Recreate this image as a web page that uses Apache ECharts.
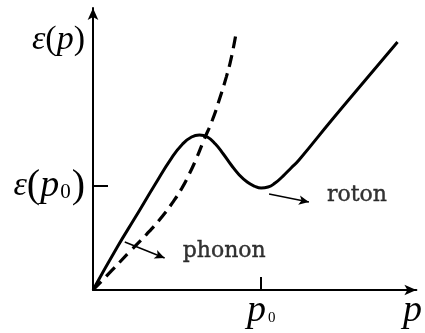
<!DOCTYPE html>
<html>
<head>
<meta charset="utf-8">
<script src="https://cdn.jsdelivr.net/npm/echarts@6/dist/echarts.min.js"></script>
<style>
  html, body { margin: 0; padding: 0; background: #fff; }
  #chart { width: 425px; height: 333px; }
</style>
</head>
<body>
<div id="chart"></div>
<script>
// Dispersion of superfluid helium: momentum in units of p0, energy in units of ε(p0)
const pSolid = [0, 0.148, 0.249, 0.367, 0.467, 0.533, 0.586, 0.633, 0.680, 0.728, 0.775, 0.822, 0.870, 0.917, 0.959, 1.0, 1.041, 1.083, 1.130, 1.178, 1.225, 1.420, 1.615, 1.811];
const eSolid = [0, 0.423, 0.692, 1.010, 1.269, 1.404, 1.471, 1.490, 1.471, 1.404, 1.308, 1.202, 1.106, 1.038, 1.0, 0.981, 0.990, 1.029, 1.096, 1.173, 1.250, 1.635, 2.010, 2.385];

// Free-particle parabola p²/2m
const pDashed = [0, 0.112, 0.219, 0.320, 0.414, 0.473, 0.527, 0.574, 0.615, 0.657, 0.710, 0.751, 0.793, 0.822, 0.852];
const eDashed = [0, 0.188, 0.370, 0.538, 0.712, 0.840, 0.975, 1.120, 1.265, 1.433, 1.635, 1.830, 2.050, 2.230, 2.481];

// Axis tick labels
const yTickValues = [1, 2.4];
const yTickLabels = ['ε(p₀)', 'ε(p)'];
const xTickValues = [1, 1.9];
const xTickLabels = ['p₀', 'p'];

// Region names and their pointer arrows
const noteNames = ['phonon', 'roton'];
const notePos = [[0.533, 0.375], [1.391, 0.913]];
const arrowFrom = [[0.189, 0.462], [1.047, 0.923]];
const arrowTo = [[0.426, 0.308], [1.284, 0.846]];

const SERIF = '"Liberation Serif", "Times New Roman", serif';

// Turn a plain math label into rich-text tokens (italic letters, upright digits)
function mathRich(text, style) {
  let out = '';
  for (const ch of text) {
    if (ch === 'ε') out += '{e|ε}';
    else if (ch === 'p') out += '{' + style + 'p|p}';
    else if (ch === '₀') out += '{' + style + 's|0}';
    else if (ch === '(' || ch === ')') out += '{' + style + 'b|' + ch + '}';
    else out += ch;
  }
  return out;
}

const black = '#000';
const richStyles = {
  e:  { fontFamily: SERIF, fontStyle: 'italic', fontSize: 34, color: black },
  // ε(p)
  ap: { fontFamily: SERIF, fontStyle: 'italic', fontSize: 34, color: black },
  ab: { fontFamily: SERIF, fontSize: 34, color: black },
  // ε(p₀)
  bp: { fontFamily: SERIF, fontStyle: 'italic', fontSize: 38, color: black },
  bb: { fontFamily: SERIF, fontSize: 40, color: black },
  bs: { fontFamily: SERIF, fontSize: 21, color: black, verticalAlign: 'bottom', padding: [0, 1, 3, 1] },
  // p₀ and p on the momentum axis
  cp: { fontFamily: SERIF, fontStyle: 'italic', fontSize: 38, color: black },
  cs: { fontFamily: SERIF, fontSize: 15, color: black, verticalAlign: 'bottom', padding: [0, 0, 4, 2] }
};

const chart = echarts.init(document.getElementById('chart'), null, { renderer: 'canvas' });

const solidData = pSolid.map((p, i) => [p, eSolid[i]]);
const dashedData = pDashed.map((p, i) => [p, eDashed[i]]);

chart.setOption({
  animation: false,
  backgroundColor: '#fff',
  grid: { left: 93, right: 7, top: 8, bottom: 43, containLabel: false },
  xAxis: {
    type: 'value',
    min: 0,
    max: 1.923,
    splitLine: { show: false },
    axisLine: { show: true, onZero: false, symbol: ['none', 'arrow'], symbolSize: [8, 12],
      lineStyle: { color: black, width: 2 } },
    axisTick: { show: true, inside: true, length: 13, customValues: [xTickValues[0]],
      lineStyle: { color: black, width: 2 } },
    axisLabel: {
      show: true,
      customValues: xTickValues,
      margin: 2,
      formatter: v => mathRich(xTickLabels[xTickValues.indexOf(v)], 'c'),
      rich: richStyles
    }
  },
  yAxis: {
    type: 'value',
    min: 0,
    max: 2.712,
    splitLine: { show: false },
    axisLine: { show: true, onZero: false, symbol: ['none', 'arrow'], symbolSize: [8, 12],
      lineStyle: { color: black, width: 2 } },
    axisTick: { show: true, inside: true, length: 15, customValues: [yTickValues[0]],
      lineStyle: { color: black, width: 2 } },
    axisLabel: {
      show: true,
      customValues: yTickValues,
      margin: 8,
      formatter: v => {
        const i = yTickValues.indexOf(v);
        return mathRich(yTickLabels[i], i === 0 ? 'b' : 'a');
      },
      rich: richStyles
    }
  },
  series: [
    {
      name: 'ε(p)',
      type: 'line',
      data: solidData,
      smooth: 0.5,
      showSymbol: false,
      lineStyle: { color: black, width: 3 },
      markLine: {
        silent: true,
        symbol: ['none', 'arrow'],
        symbolSize: [7, 10],
        label: { show: false },
        lineStyle: { color: black, width: 1.5, type: 'solid' },
        data: arrowFrom.map((a, i) => [{ coord: a }, { coord: arrowTo[i] }])
      }
    },
    {
      name: 'p²/2m',
      type: 'line',
      data: dashedData,
      smooth: 0.5,
      showSymbol: false,
      lineStyle: { color: black, width: 3.2, type: [12, 7] }
    },
    {
      name: 'notes',
      type: 'scatter',
      symbolSize: 0,
      silent: true,
      data: notePos.map((p, i) => [p[0], p[1], noteNames[i]]),
      label: {
        show: true,
        position: 'right',
        distance: 0,
        formatter: d => d.data[2],
        fontFamily: '"DejaVu Serif", serif',
        fontSize: 22,
        color: black,
        textBorderColor: black,
        textBorderWidth: 0.4
      }
    }
  ]
});
</script>
</body>
</html>
